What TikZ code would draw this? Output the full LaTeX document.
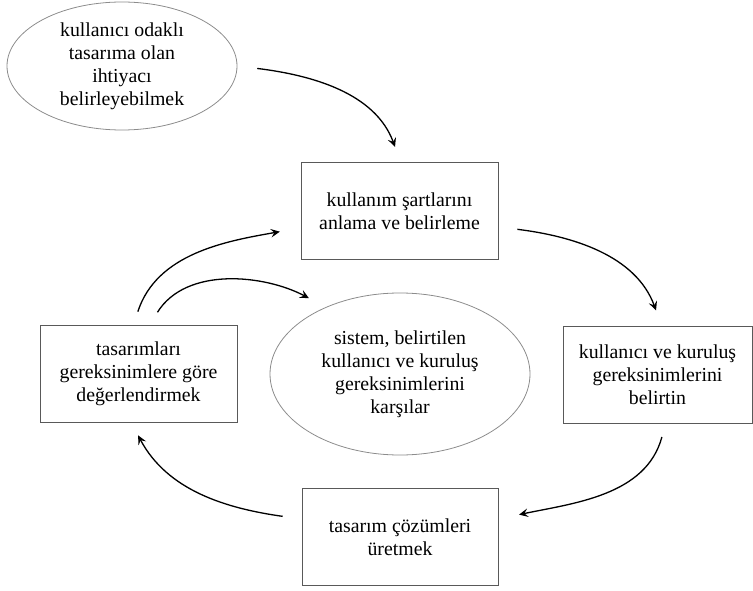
\documentclass[tikz,border=0pt]{standalone}
\usepackage{fontspec}
\setmainfont{Liberation Serif}
\usetikzlibrary{shapes.geometric,arrows.meta}
\begin{document}
\begin{tikzpicture}[x=1pt,y=-1pt,
  every node/.style={font=\fontsize{19.8}{23}\selectfont, align=center, inner sep=0pt},
  oval/.style={ellipse, draw=black!45, line width=0.8pt},
  stepbox/.style={rectangle, draw=black!65, line width=1pt, minimum height=97pt},
  arr/.style={-{Stealth[length=9pt,width=8.5pt,inset=3.5pt]}, line width=1.3pt, black}]
\useasboundingbox (0,0) rectangle (753,591);
\node[oval, minimum width=230pt, minimum height=128pt] (need) at (122,66)
  {kullanıcı odaklı\\tasarıma olan\\ihtiyacı\\belirleyebilmek};
\node[stepbox, minimum width=197pt] (ctx) at (399.5,211)
  {kullanım şartlarını\\anlama ve belirleme};
\node[stepbox, minimum width=189pt] (req) at (657.5,374.5)
  {kullanıcı ve kuruluş\\gereksinimlerini\\belirtin};
\node[stepbox, minimum width=196pt] (sol) at (400,537)
  {tasarım çözümleri\\üretmek};
\node[stepbox, minimum width=197pt] (eval) at (138.5,374)
  {tasarımları\\gereksinimlere göre\\değerlendirmek};
\node[oval, minimum width=260pt, minimum height=162pt] (goal) at (400,374)
  {sistem, belirtilen\\kullanıcı ve kuruluş\\gereksinimlerini\\karşılar};
\draw[arr, shorten <=20pt, shorten >=16pt] (need.east) to[out=-7,in=110] ([xshift=1pt]ctx.north);
\draw[arr, shorten <=19pt, shorten >=16pt] ([yshift=-16pt]ctx.east) to[out=-7,in=110] ([xshift=4pt]req.north);
\draw[arr, shorten <=14pt, shorten >=21pt] ([xshift=8pt]req.south) to[out=-105,in=12] ([yshift=18pt]sol.east);
\draw[arr, shorten <=19pt, shorten >=14pt] ([yshift=18pt]sol.west) to[out=172,in=-62] ([xshift=-7pt]eval.south);
\draw[arr, shorten <=14pt, shorten >=21pt] ([xshift=-5pt]eval.north) to[out=72,in=190] ([yshift=-17pt]ctx.west);
\draw[arr, shorten <=15pt, shorten >=19pt] ([xshift=11pt]eval.north) to[out=58,in=152] (goal.138);
\end{tikzpicture}
\end{document}
